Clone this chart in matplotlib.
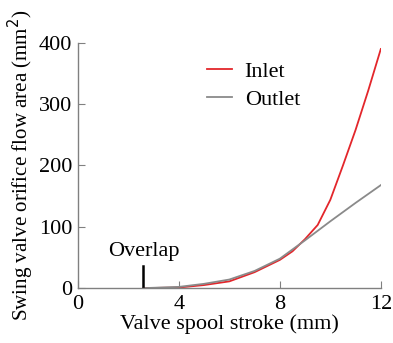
import matplotlib
matplotlib.use("Agg")
import matplotlib.pyplot as plt

stroke_in = [2.6, 4, 5, 6, 7, 8, 8.5, 9, 9.5, 10, 10.5, 11, 11.5, 12]
inlet = [0, 1, 5, 11, 26, 46, 60, 80, 103, 144, 200, 258, 322, 390]
stroke_out = [2.6, 4, 5, 6, 7, 8, 9, 10, 11, 12]
outlet = [0, 2, 7, 14, 28, 48, 78, 109, 139, 168]
overlap_x = 2.6
overlap_h = 36

plt.rcParams['font.family'] = ['Liberation Serif', 'DejaVu Serif']
fig = plt.figure(figsize=(3.93, 3.43), dpi=100)
ax = fig.add_axes([0.198, 0.160, 0.771, 0.715])

ax.plot(stroke_in, inlet, color='#e3262b', lw=1.3, label='Inlet')
ax.plot(stroke_out, outlet, color='#8a8a8a', lw=1.3, label='Outlet')
ax.plot([overlap_x, overlap_x], [0, overlap_h], color='black', lw=1.8)
ax.text(overlap_x, 44, 'Overlap', ha='center', va='bottom', fontsize=16)

ax.set_xlim(0, 12)
ax.set_ylim(0, 400)
ax.set_xticks([0, 4, 8, 12])
ax.set_yticks([0, 100, 200, 300, 400])
for s in ['top', 'right']:
    ax.spines[s].set_visible(False)
for s in ['left', 'bottom']:
    ax.spines[s].set_color('#808080')
    ax.spines[s].set_linewidth(1.0)
ax.tick_params(direction='in', length=5, color='#808080', labelsize=16)
ax.tick_params(axis='x', pad=5)
ax.tick_params(axis='y', pad=4)
ax.set_xlabel('Valve spool stroke (mm)', fontsize=16, labelpad=0)
ax.set_ylabel('Swing valve orifice flow area (mm$^2$)', fontsize=15.1, labelpad=2)

leg = ax.legend(loc='upper left', bbox_to_anchor=(0.426, 0.925), frameon=False,
                fontsize=16, handlelength=1.15, handletextpad=0.55, labelspacing=0.35,
                borderpad=0, borderaxespad=0)

fig.savefig('out.png', dpi=100)
